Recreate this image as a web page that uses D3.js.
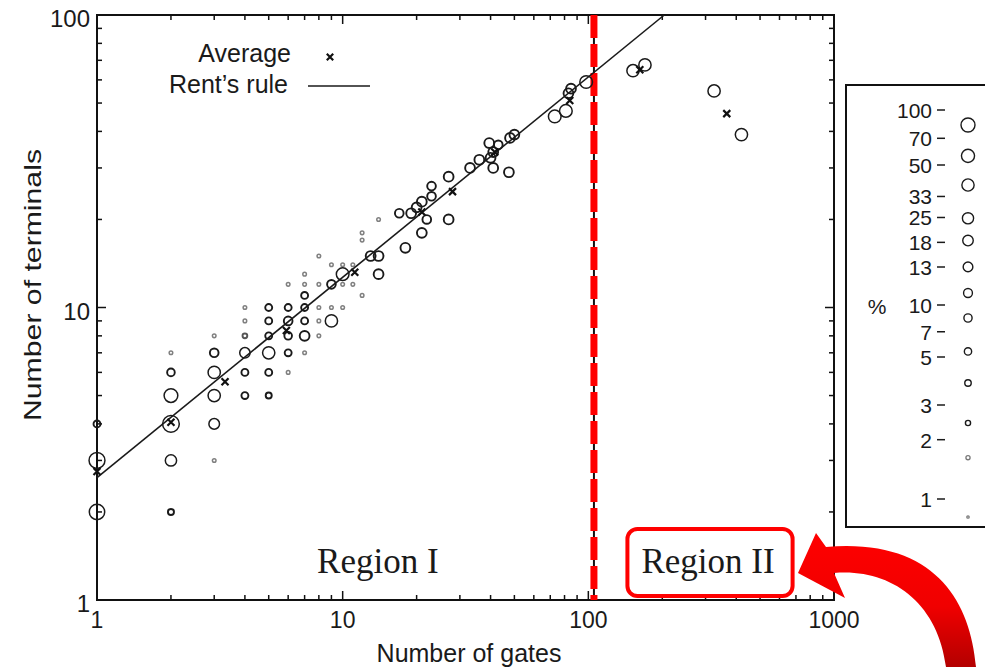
<!DOCTYPE html>
<html><head><meta charset="utf-8">
<script src="https://cdn.jsdelivr.net/npm/d3@7"></script>
<style>
body{margin:0;background:#fff}
svg{display:block}
text{font-family:"Liberation Sans",Arial,Helvetica,sans-serif;fill:#1a1a1a}
</style>
</head><body>
<svg id="c" width="985" height="667"></svg>
<script>
// ---- data ----
// [gates, terminals, percent of subcircuits]
const subcircuits = [
  [1,4,4],[1,3,70],[1,2,60],
  [2,7,1],[2,6,5],[2,5,35],[2,4,90],[2,3,16],[2,2,3],
  [3,8,1],[3,7,7],[3,6,22],[3,5,22],[3,4,13],[3,3,1],
  [4,10,1],[4,9,1],[4,8,2],[4,7,12],[4,6,4],[4,5,4],
  [5,10,4],[5,9,4],[5,8,4],[5,7,22],[5,6,4],[5,5,3],
  [6,12,1],[6,10,4],[6,9,7],[6,8,5],[6,7,4],[6,6,1],
  [7,13,1],[7,12,1],[7,11,4],[7,10,4],[7,9,4],[7,8,10],[7,7,1],
  [8,15,1],[8,12,1],[8,10,1],[8,9,1],[8,8,1],
  [9,14,1],[9,12,7],[9,10,1],[9,9,22],
  [10,14,1],[10,13,25],[10,12,1],[10,10,1],
  [11,14,1],[11,12,1],
  [12,18,1],[12,17,1],[12,11,1],
  [13,15,10],[14,15,10],[14,13,10],[14,20,1],
  [17,21,7],[18,16,10],[19,21,10],[20,22,10],[21,23,10],[21,18,10],[22,20,7],[23,24,7],[23,26,7],
  [27,28,10],[27,20,10],[33,30,10],[36,32,10],[39.5,36.5,10],[41,34,10],[40,32.5,10],[43,36,7],
  [41,30,10],[47.5,29,10],[48,38,10],[50,39,10],
  [73,45,25],[81,47,25],[83,54,10],[85,56,10],[98,59,25],
  [152,64.5,22],[170,67.5,22],[325,55,22],[420,39,22]
];
const averages = [[1,2.75],[2,4.05],[3.32,5.57],[5.9,8.35],[11.2,13.2],[21,21.2],[28,24.9],[41.6,34],[84,51],[162,65],[366,46]];
const rentCoef = 2.62, rentExp = 0.685;
const xTickLabels = [1,10,100,1000];
const yTickLabels = [1,10,100];
const legendPct = [100,70,50,33,25,18,13,10,7,5,3,2,1];
const regionBoundary = 105.4;
const regions = [{name:"Region I", gates:13.9}, {name:"Region II", gates:307}];

// ---- layout ----
const svg = d3.select("#c");
const L=97, R=834, T=15, B=600;
const x = d3.scaleLog().domain([1,1000]).range([L,R]);
const y = d3.scaleLog().domain([1,100]).range([B,T]);
const rPlot = d3.scaleLog().domain([1,100]).range([1.3,8.5]);
const rLeg = d3.scaleLog().domain([1,100]).range([1.2,7.0]);

// frame
svg.append("rect").attr("x",L).attr("y",T).attr("width",R-L).attr("height",B-T)
  .attr("fill","none").attr("stroke","#111").attr("stroke-width",2);

const isMajor = v => Math.abs(Math.log10(v)-Math.round(Math.log10(v)))<1e-9;
const ticks = svg.append("g").attr("stroke","#111").attr("stroke-width",1.5);
x.ticks().forEach(v=>{
  if (v<=1||v>=1000) return;
  const len = isMajor(v)?9:5;
  ticks.append("line").attr("x1",x(v)).attr("x2",x(v)).attr("y1",B).attr("y2",B-len);
  ticks.append("line").attr("x1",x(v)).attr("x2",x(v)).attr("y1",T).attr("y2",T+len);
});
y.ticks().forEach(v=>{
  if (v<=1||v>=100) return;
  const len = isMajor(v)?9:5;
  ticks.append("line").attr("y1",y(v)).attr("y2",y(v)).attr("x1",L).attr("x2",L+len);
  ticks.append("line").attr("y1",y(v)).attr("y2",y(v)).attr("x1",R).attr("x2",R-len);
});

// tick labels
svg.selectAll(".xl").data(xTickLabels).enter().append("text")
  .attr("x",d=>x(d)).attr("y",B+28).attr("text-anchor","middle")
  .attr("font-size",23).text(d=>d);
svg.selectAll(".yl").data(yTickLabels).enter().append("text")
  .attr("x",L-7).attr("y",d=>y(d)+12).attr("text-anchor","end")
  .attr("font-size",24).text(d=>d);

// axis titles
svg.append("text").attr("x",469).attr("y",662).attr("text-anchor","middle")
  .attr("font-size",25).text("Number of gates");
svg.append("text").attr("transform","translate(41,285) rotate(-90)")
  .attr("text-anchor","middle").attr("font-size",24)
  .attr("textLength",272).attr("lengthAdjust","spacingAndGlyphs").text("Number of terminals");

// vertical boundary line
svg.append("line").attr("x1",x(regionBoundary)).attr("x2",x(regionBoundary))
  .attr("y1",T).attr("y2",B).attr("stroke","#111").attr("stroke-width",2);
svg.append("line").attr("x1",x(regionBoundary)).attr("x2",x(regionBoundary))
  .attr("y1",T).attr("y2",B).attr("stroke","#ff0000").attr("stroke-width",7)
  .attr("stroke-dasharray","23 6");

// data circles
const g = svg.append("g").attr("fill","none");
g.selectAll("circle").data(subcircuits).enter().append("circle")
  .attr("cx",d=>x(d[0])).attr("cy",d=>y(d[1]))
  .attr("r",d=>d[2]<=1?1.8:rPlot(d[2]))
  .attr("stroke",d=>d[2]<=1?"#808080":(d[2]<=2?"#555":"#1a1a1a"))
  .attr("stroke-width",d=>d[2]<=1?1.5:(d[2]<=10?1.9:1.5));

// Rent's rule line
const xTop = Math.pow(100/rentCoef, 1/rentExp);
svg.append("path").attr("d", d3.line()([[x(1),y(rentCoef)],[x(xTop),y(100)]]))
  .attr("stroke","#1a1a1a").attr("stroke-width",1.6).attr("fill","none");

// averages
const cross = (sel,cx,cy,s)=>{
  sel.append("path").attr("d",`M${cx-s},${cy-s}L${cx+s},${cy+s}M${cx-s},${cy+s}L${cx+s},${cy-s}`)
    .attr("stroke","#111").attr("stroke-width",2.2).attr("fill","none");
};
const ag = svg.append("g");
averages.forEach(d=>cross(ag,x(d[0]),y(d[1]),3.5));

// top-left key
svg.append("text").attr("x",291).attr("y",62).attr("text-anchor","end").attr("font-size",25).text("Average");
cross(svg,330,57,3.2);
svg.append("text").attr("x",288).attr("y",93).attr("text-anchor","end").attr("font-size",25)
  .text("Rent\u2019s rule");
svg.append("line").attr("x1",308).attr("x2",370).attr("y1",86).attr("y2",86)
  .attr("stroke","#1a1a1a").attr("stroke-width",1.6);

// region labels
const regText = svg.selectAll(".reg").data(regions).enter().append("text")
  .attr("x",d=>x(d.gates)).attr("y",573).attr("text-anchor","middle")
  .style("font-family","'Liberation Serif','Times New Roman',serif")
  .attr("font-size",35).text(d=>d.name);
const bb = regText.filter((d,i)=>i===1).node().getBBox();
svg.append("rect").attr("x",bb.x-14).attr("y",529).attr("width",bb.width+32).attr("height",67)
  .attr("rx",10).attr("fill","none").attr("stroke","#ff0000").attr("stroke-width",4);

// curved arrow
const defs = svg.append("defs");
const grad = defs.append("linearGradient").attr("id","ag").attr("x1",0).attr("y1",0).attr("x2",0).attr("y2",1);
grad.append("stop").attr("offset","0%").attr("stop-color","#ff0000");
grad.append("stop").attr("offset","55%").attr("stop-color","#f00000");
grad.append("stop").attr("offset","100%").attr("stop-color","#b30000");
svg.append("path")
  .attr("d","M976,667 C970,598 932,538 826,547 L816,533 L798,573 L845,598 L834,573 C890,568 938,602 946,667 Z")
  .attr("fill","url(#ag)");

// percent legend
svg.append("rect").attr("x",846).attr("y",85).attr("width",200).attr("height",442)
  .attr("fill","#fff").attr("stroke","#111").attr("stroke-width",2);
const legLabelY = d3.scaleLog().domain([100,50,13,10,5,3,1]).range([111,166,268,306,358,406,500]);
const legCircleY = d3.scaleLog().domain([100,50,13,10,5,3,1]).range([125,185,293,318,383,423,517]);
const lg = svg.append("g");
legendPct.forEach(p=>{
  lg.append("text").attr("x",932).attr("y",legLabelY(p)+7).attr("text-anchor","end")
    .attr("font-size",21).text(p);
  lg.append("line").attr("x1",937).attr("x2",945).attr("y1",legLabelY(p)-1).attr("y2",legLabelY(p)-1)
    .attr("stroke","#1a1a1a").attr("stroke-width",1.5);
  lg.append("circle").attr("cx",968).attr("cy",legCircleY(p)).attr("r",rLeg(p))
    .attr("fill","none").attr("stroke",p<=2?"#777":"#1a1a1a").attr("stroke-width",p<=2?1.3:1.4);
});
svg.append("text").attr("x",877).attr("y",314).attr("text-anchor","middle").attr("font-size",21).text("%");
</script>
</body></html>
